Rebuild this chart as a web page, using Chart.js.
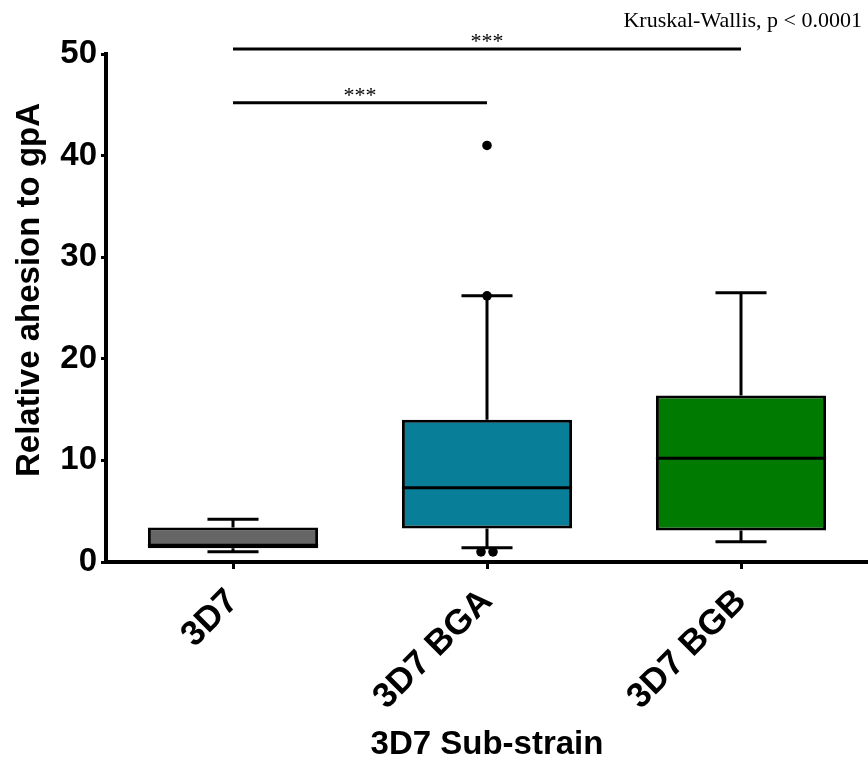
<!DOCTYPE html>
<html>
<head>
<meta charset="utf-8">
<script src="https://cdn.jsdelivr.net/npm/chart.js@4.4.1/dist/chart.umd.min.js"></script>
<style>
  html, body { margin: 0; padding: 0; background: #fff; }
  #wrap { width: 868px; height: 767px; }
</style>
</head>
<body>
<div id="wrap"><canvas id="boxChart"></canvas></div>
<script>
// box plot data
const strains = ["3D7", "3D7 BGA", "3D7 BGB"];
const whiskerLow = [1.0, 1.4, 2.0];
const quartile1 = [1.35, 3.3, 3.1];
const medians = [1.65, 7.3, 10.2];
const quartile3 = [3.4, 14.0, 16.4];
const whiskerHigh = [4.2, 26.2, 26.5];
const outliers = [[], [41.0, 26.2, 1.0, 1.0], []];
const boxColors = ["#666666", "#087e98", "#007a00"];
const yTicks = [0, 10, 20, 30, 40, 50];

// significance brackets: [from, to, height, label]
const brackets = [
  [0, 2, 50.5, "***"],
  [0, 1, 45.2, "***"]
];
const testNote = "Kruskal-Wallis, p < 0.0001";

const boxPlot = {
  id: "boxPlot",
  afterDatasetsDraw(chart) {
    const ctx = chart.ctx;
    const y = chart.scales.y;
    const bars = chart.getDatasetMeta(0).data;
    ctx.save();
    ctx.strokeStyle = "#000";
    ctx.fillStyle = "#000";
    ctx.lineWidth = 3;
    bars.forEach((bar, i) => {
      const cx = bar.x;
      const half = bar.width / 2;
      const cap = bar.width * 0.15;
      const yMed = y.getPixelForValue(medians[i]);
      const yQ1 = y.getPixelForValue(quartile1[i]);
      const yQ3 = y.getPixelForValue(quartile3[i]);
      const yLo = y.getPixelForValue(whiskerLow[i]);
      const yHi = y.getPixelForValue(whiskerHigh[i]);
      ctx.beginPath();
      // median
      ctx.moveTo(cx - half, yMed); ctx.lineTo(cx + half, yMed);
      // whiskers
      ctx.moveTo(cx, yQ3); ctx.lineTo(cx, yHi);
      ctx.moveTo(cx, yQ1); ctx.lineTo(cx, yLo);
      // caps
      ctx.moveTo(cx - cap, yHi); ctx.lineTo(cx + cap, yHi);
      ctx.moveTo(cx - cap, yLo); ctx.lineTo(cx + cap, yLo);
      ctx.stroke();
      // outliers, dodge repeated values
      const seen = {};
      outliers[i].forEach(v => {
        seen[v] = (seen[v] || 0) + 1;
      });
      const used = {};
      outliers[i].forEach(v => {
        const n = seen[v];
        const k = used[v] || 0;
        used[v] = k + 1;
        const dx = n > 1 ? (k - (n - 1) / 2) * 12 : 0;
        ctx.beginPath();
        ctx.arc(cx + dx, y.getPixelForValue(v), 4.8, 0, Math.PI * 2);
        ctx.fill();
      });
    });
    ctx.restore();
  },
  afterDraw(chart) {
    const ctx = chart.ctx;
    const x = chart.scales.x;
    const y = chart.scales.y;
    ctx.save();
    // brackets
    ctx.strokeStyle = "#000";
    ctx.lineWidth = 3;
    ctx.fillStyle = "#000";
    ctx.font = "22px 'Liberation Serif'";
    ctx.textAlign = "center";
    ctx.textBaseline = "alphabetic";
    brackets.forEach(b => {
      const x1 = x.getPixelForValue(b[0]);
      const x2 = x.getPixelForValue(b[1]);
      const yy = y.getPixelForValue(b[2]);
      ctx.beginPath();
      ctx.moveTo(x1, yy); ctx.lineTo(x2, yy);
      ctx.stroke();
      ctx.fillText(b[3], (x1 + x2) / 2, yy - 1);
    });
    // test note
    ctx.textAlign = "right";
    ctx.fillText(testNote, 862, 27);
    // y title
    ctx.font = "bold 33px 'Liberation Sans'";
    ctx.textAlign = "center";
    ctx.textBaseline = "middle";
    ctx.translate(30, 290);
    ctx.rotate(-Math.PI / 2);
    ctx.fillText("Relative ahesion to gpA", 0, 0);
    ctx.restore();
  }
};

const ctx = document.getElementById("boxChart").getContext("2d");
new Chart(ctx, {
  type: "bar",
  data: {
    labels: strains,
    datasets: [
      {
        data: quartile1.map((q, i) => [q, quartile3[i]]),
        backgroundColor: boxColors,
        borderColor: "#000",
        borderWidth: 3,
        borderSkipped: false,
        barPercentage: 0.67,
        categoryPercentage: 1,
      },
    ],
  },
  options: {
    responsive: true,
    maintainAspectRatio: false,
    animation: false,
    layout: { padding: { top: 54, right: 0, left: 0, bottom: 0 } },
    plugins: {
      legend: { display: false },
      tooltip: { enabled: false },
    },
    scales: {
      x: {
        afterFit(scale) { scale.height = 205; },
        grid: {
          offset: false,
          drawOnChartArea: false,
          drawTicks: true,
          tickLength: 7,
          tickWidth: 3,
          tickColor: "#000",
        },
        border: { display: true, width: 4, color: "#000" },
        ticks: {
          color: "#000",
          font: { family: "Liberation Sans", weight: "bold", size: 35 },
          minRotation: 45,
          maxRotation: 45,
          padding: 12,
        },
        title: {
          display: true,
          text: "3D7 Sub-strain",
          color: "#000",
          font: { family: "Liberation Sans", weight: "bold", size: 33 },
          padding: { top: 0, bottom: 2 },
        },
      },
      y: {
        min: 0,
        max: 50,
        afterFit(scale) { scale.width = 106; },
        afterBuildTicks(scale) { scale.ticks = yTicks.map(v => ({ value: v })); },
        grid: {
          drawOnChartArea: false,
          drawTicks: true,
          tickLength: 5,
          tickWidth: 3,
          tickColor: "#000",
        },
        border: { display: true, width: 4, color: "#000" },
        ticks: {
          color: "#000",
          font: { family: "Liberation Sans", weight: "bold", size: 33 },
          padding: 4,
        },
      },
    },
  },
  plugins: [boxPlot],
});
</script>
</body>
</html>
